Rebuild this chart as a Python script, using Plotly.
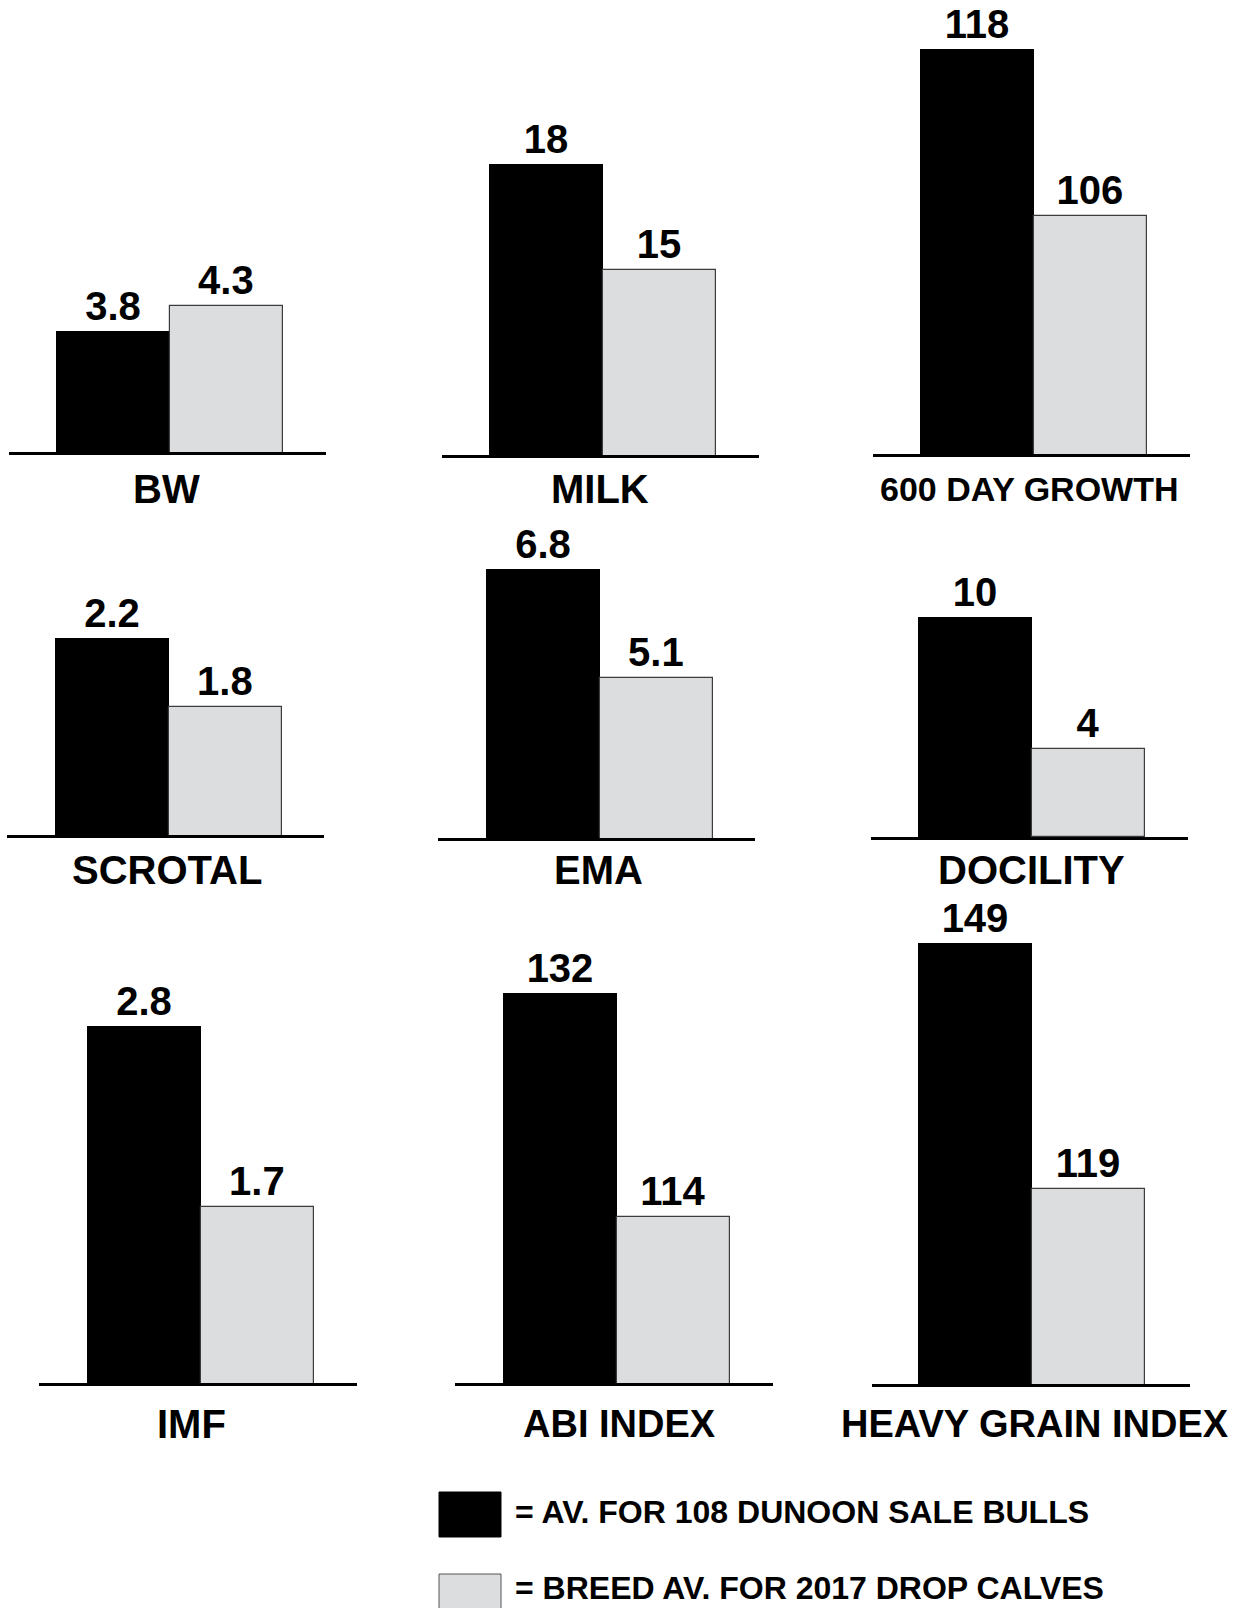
import plotly.graph_objects as go

# ---------------- data ----------------
traits = ["BW", "MILK", "600 DAY GROWTH",
          "SCROTAL", "EMA", "DOCILITY",
          "IMF", "ABI INDEX", "HEAVY GRAIN INDEX"]
dunoon_sale_bulls = [3.8, 18, 118, 2.2, 6.8, 10, 2.8, 132, 149]
breed_av_2017_calves = [4.3, 15, 106, 1.8, 5.1, 4, 1.7, 114, 119]
bar_keys = ["DUNOON", "BREED"]
series_names = ["= AV. FOR 108 DUNOON SALE BULLS",
                "= BREED AV. FOR 2017 DROP CALVES"]

# ---------------- layout config (pixels) ----------------
FIG_W, FIG_H = 1242, 1608
BAR_PX = 113.5
FONT = "Liberation Sans, Arial, Helvetica, sans-serif"
BLACK = "#000000"
GREY = "#DCDDDF"
GREY_EDGE = "#3c3c3c"

# baseline_y, line_x0, line_x1, first_bar_left, panel_top, y_floor, px_per_unit
panel_px = [
    (452, 9, 326, 56, 0, 1.38, 50.0),
    (455, 442, 759, 489, 0, 9.764, 35.33),
    (454, 873, 1190, 920, 0, 88.9, 13.92),
    (835, 7, 324, 55, 480, 1.058, 172.5),
    (838, 438, 755, 486, 480, 2.605, 64.12),
    (837, 871, 1188, 918, 480, 0.0, 22.0),
    (1383, 39, 357, 87, 870, 0.630, 164.5),
    (1383, 455, 773, 503, 870, 100.65, 12.44),
    (1384, 872, 1190, 918, 870, 95.22, 8.2),
]
# category label centre (x, y) px, font size
label_px = [
    (167, 489, 40), (600, 489, 40), (1029, 489, 34),
    (167, 870, 40), (598, 870, 40), (1031, 870, 40),
    (191, 1424, 40), (619, 1424, 38), (1035, 1424, 38),
]

fig = go.Figure()
layout = {}
annotations = []

for i, (trait, v1, v2) in enumerate(zip(traits, dunoon_sale_bulls, breed_av_2017_calves)):
    base_y, lx0, lx1, bar_left, top_y, y_floor, ppu = panel_px[i]
    n = "" if i == 0 else str(i + 1)
    xa, ya = "x" + n, "y" + n
    fig.add_trace(go.Bar(
        x=bar_keys, y=[v1, v2], xaxis=xa, yaxis=ya,
        marker=dict(color=[BLACK, GREY],
                    line=dict(color=[BLACK, GREY_EDGE], width=[0, 1.2])),
        texttemplate="%{y}", textposition="outside", textangle=0,
        constraintext="none", cliponaxis=True,
        textfont=dict(family=FONT, size=40, color=BLACK, weight="bold"),
        showlegend=False, hoverinfo="skip",
    ))
    c0 = bar_left + BAR_PX / 2
    r0 = -(c0 - lx0) / BAR_PX
    r1 = r0 + (lx1 - lx0) / BAR_PX
    layout["xaxis" + n] = dict(
        domain=[lx0 / FIG_W, lx1 / FIG_W], range=[r0, r1], anchor=ya,
        showgrid=False, zeroline=False, showticklabels=False, ticks="",
        showline=True, linecolor=BLACK, linewidth=3, fixedrange=True,
    )
    layout["yaxis" + n] = dict(
        domain=[1 - base_y / FIG_H, 1 - top_y / FIG_H],
        range=[y_floor, y_floor + (base_y - top_y) / ppu],
        anchor=xa, visible=False, fixedrange=True,
    )
    cx, cy, fs = label_px[i]
    annotations.append(dict(
        text=trait, xref="paper", yref="paper",
        x=cx / FIG_W, y=1 - cy / FIG_H, xanchor="center", yanchor="middle",
        showarrow=False,
        font=dict(family=FONT, size=fs, color=BLACK, weight="bold"),
    ))

# legend (custom keys)
legend_rows = [(1492, 1537, 1512, BLACK, BLACK), (1574, 1620, 1588, GREY, "#555555")]
shapes = []
for (y0, y1, ty, fill, edge), name in zip(legend_rows, series_names):
    shapes.append(dict(type="rect", xref="paper", yref="paper",
                       x0=439 / FIG_W, x1=501 / FIG_W,
                       y0=1 - y1 / FIG_H, y1=1 - y0 / FIG_H,
                       fillcolor=fill, line=dict(color=edge, width=1)))
    annotations.append(dict(
        text=name, xref="paper", yref="paper",
        x=513 / FIG_W, y=1 - ty / FIG_H, xanchor="left", yanchor="middle",
        showarrow=False,
        font=dict(family=FONT, size=32, color=BLACK, weight="bold"),
    ))

fig.update_layout(
    width=FIG_W, height=FIG_H,
    margin=dict(l=0, r=0, t=0, b=0),
    paper_bgcolor="white", plot_bgcolor="rgba(0,0,0,0)",
    barmode="overlay", bargap=0,
    annotations=annotations, shapes=shapes,
    showlegend=False,
    **layout,
)

fig.write_html(
    "out.html",
    config={"displayModeBar": False},
    post_script="document.body.style.margin='0';document.body.style.overflow='hidden';",
)
